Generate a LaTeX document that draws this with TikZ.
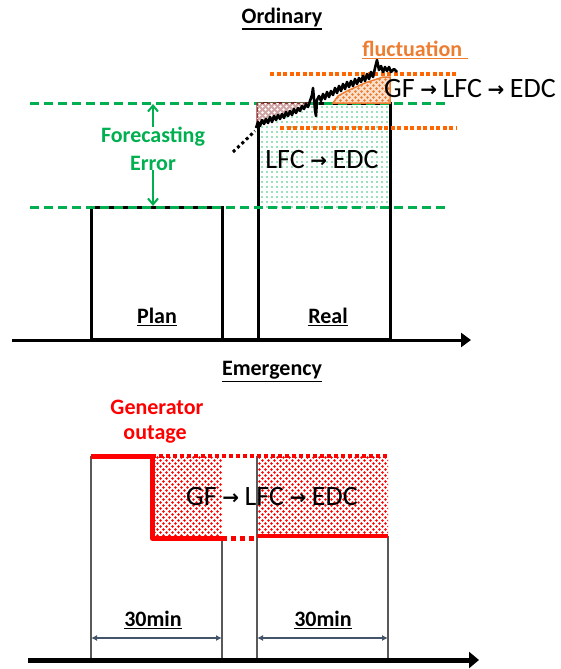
\documentclass[tikz,border=0pt]{standalone}
\usepackage{fontspec}
\setmainfont{Carlito}
\newfontfamily\symfont{DejaVu Sans}
\usetikzlibrary{arrows.meta,patterns,positioning,calc,backgrounds}
\pgfdeclarelayer{edgelayer}
\pgfdeclarelayer{nodelayer}
\pgfsetlayers{background,edgelayer,nodelayer,main}
\definecolor{fcgreen}{RGB}{0,176,80}
\definecolor{florange}{RGB}{237,125,49}
\definecolor{dotorange}{RGB}{255,102,0}
\definecolor{outred}{RGB}{255,0,0}
\definecolor{brownred}{RGB}{150,55,55}
\definecolor{slate}{RGB}{68,84,106}
\pgfdeclarepatternformonly{sparsedots}{\pgfqpoint{-1pt}{-1pt}}{\pgfqpoint{6pt}{6pt}}{\pgfqpoint{5pt}{5pt}}
	{\pgfpathcircle{\pgfqpoint{2pt}{2pt}}{0.85pt}\pgfusepath{fill}}
\pgfdeclarepatternformonly{densedots}{\pgfqpoint{-1pt}{-1pt}}{\pgfqpoint{7pt}{7pt}}{\pgfqpoint{6pt}{6pt}}
	{\pgfpathcircle{\pgfqpoint{1.5pt}{1.5pt}}{1.3pt}\pgfpathcircle{\pgfqpoint{4.5pt}{4.5pt}}{1.3pt}\pgfusepath{fill}}
\newcommand{\tarr}{\hspace{0.2em}\raisebox{1.5pt}{\symfont\bfseries\fontsize{20}{20}\selectfont →}\hspace{0.2em}}
\newcommand{\ulbox}[1]{\vtop{\hbox{#1}\kern1.2pt\hrule height 1.6pt}}
\tikzstyle{none}=[inner sep=0mm]
\tikzstyle{title}=[inner sep=0mm,font=\fontsize{22}{24}\selectfont\bfseries]
\tikzstyle{big}=[inner sep=0mm,font=\fontsize{28}{30}\selectfont]
\tikzstyle{axis}=[line width=3pt,-{Triangle[length=10pt,width=14pt]}]
\tikzstyle{box}=[line width=3pt]
\tikzstyle{level}=[fcgreen,line width=3pt,dash pattern=on 9pt off 5pt]
\tikzstyle{band}=[dotorange,line width=4pt,dash pattern=on 4pt off 2.5pt]
\tikzstyle{gap}=[-{Straight Barb[length=6pt,width=10pt]},fcgreen,line width=2pt]
\tikzstyle{span}=[{Latex[length=6pt,width=6pt]}-{Latex[length=6pt,width=6pt]},slate,line width=1.5pt]
\tikzstyle{thin}=[black!65,line width=1.2pt]
\tikzstyle{outage}=[outred,line width=5pt]

\begin{document}
\begin{tikzpicture}[x=1pt,y=-1pt]
	\useasboundingbox (0,0) rectangle (560,669);
	\begin{pgfonlayer}{nodelayer}
		% ordinary
		\node [style=title] (1) at (282, 19) {\ulbox{Ordinary}};
		\node [style=title,text=florange] (2) at (415, 50) {\ulbox{fluctuation\hspace{0.25em}}};
		\node [style=big] (3) at (470, 89) {GF\tarr LFC\tarr EDC};
		\node [style=big] (4) at (322, 160) {LFC\tarr EDC};
		\node [style=title,text=fcgreen] (5) at (153, 137) {Forecasting};
		\node [style=title,text=fcgreen] (6) at (153, 163) {Error};
		\node [style=title] (7) at (157, 317) {\ulbox{Plan}};
		\node [style=title] (8) at (328, 317) {\ulbox{Real}};
		\node [style=none] (9) at (12, 340) {};
		\node [style=none] (10) at (471, 340) {};
		\node [style=none] (11) at (153, 104) {};
		\node [style=none] (12) at (153, 206) {};
		% emergency
		\node [style=title] (13) at (272, 372) {\ulbox{Emergency}};
		\node [style=title,text=outred] (14) at (157, 407) {Generator};
		\node [style=title,text=outred] (15) at (155, 434) {outage};
		\node [style=big] (16) at (272, 497) {GF\tarr LFC\tarr EDC};
		\node [style=title] (17) at (153, 620) {\ulbox{30min}};
		\node [style=title] (18) at (323, 620) {\ulbox{30min}};
		\node [style=none] (19) at (28, 660) {};
		\node [style=none] (20) at (479, 660) {};
		\node [style=none] (21) at (91, 638) {};
		\node [style=none] (22) at (222, 638) {};
		\node [style=none] (23) at (257, 638) {};
		\node [style=none] (24) at (388, 638) {};
	\end{pgfonlayer}
	\begin{pgfonlayer}{edgelayer}
		% ordinary
		\fill[pattern=sparsedots,pattern color=fcgreen!80] (258, 103) rectangle (390, 207);
		\draw[style=box] (91, 340) -- (91, 207) -- (222, 207) -- (222, 340);
		\draw[style=box] (258, 340) -- (258, 103) -- (390, 103) -- (390, 340);
		\draw[style=axis] (9.center) to (10.center);
		\draw[line width=4pt] (91, 340) -- (390, 340);
		\draw[style=level] (30, 103) -- (446, 103);
		\draw[style=level] (30, 207) -- (446, 207);
		\draw[style=band] (270, 74) -- (456, 74);
		\draw[style=band] (280, 128) -- (456, 128);
		\draw[brownred,line width=1.5pt,fill=brownred!45,postaction={pattern=densedots,pattern color=white}]
			(257, 103) -- (257, 124) -- (265, 120) -- (274, 118) -- (283, 115) -- (292, 113)
			-- (301, 108) -- (307, 105) -- (309, 103) -- cycle;
		\draw[florange,line width=1.5pt,fill=florange!25,postaction={pattern=densedots,pattern color=florange}]
			(333, 103) -- (338, 96) -- (347, 91) -- (356, 87) -- (365, 83) -- (374, 80)
			-- (383, 77) -- (390, 77) -- (390, 103) -- cycle;
		\draw[line width=3pt,dash pattern=on 3pt off 3pt] (233, 152) -- (255, 131);
		\draw[line width=2.6pt,line join=round] plot coordinates {
			(256,128) (258,122) (260,126) (262,120) (264,124) (266,119) (268,123) (270,117)
			(272,122) (274,116) (276,120) (278,115) (280,119) (282,114) (284,118) (286,112)
			(288,116) (290,111) (292,115) (294,109) (296,113) (298,108) (300,111) (302,106)
			(304,109) (306,104) (308,107) (310,101) (312,95) (313,88) (314,99) (315,110)
			(316,116) (317,100) (319,96) (321,101) (323,94) (325,99) (327,92) (329,97)
			(331,91) (333,95) (335,88) (337,93) (339,86) (341,91) (343,84) (345,89)
			(347,82) (349,87) (351,81) (353,86) (355,79) (357,84) (359,78) (361,82)
			(363,76) (365,81) (367,74) (369,79) (371,72) (373,77) (375,68) (377,60)
			(379,70) (381,66) (383,72) (385,67) (387,71) (389,67) (391,72) (394,69) (397,72)};
		\draw[style=gap] (5.north) to (11.center);
		\draw[style=gap] (6.south) to (12.center);
		% emergency
		\fill[pattern=densedots,pattern color=outred] (152, 456) rectangle (222, 538);
		\fill[pattern=densedots,pattern color=outred] (257, 456) rectangle (388, 536);
		\draw[style=thin] (91, 456) -- (91, 660);
		\draw[style=thin] (222, 538) -- (222, 660);
		\draw[style=thin] (257, 456) -- (257, 660);
		\draw[style=thin] (388, 536) -- (388, 660);
		\draw[outred,line width=4pt,dash pattern=on 4pt off 3pt] (152, 456) -- (388, 456);
		\draw[style=outage,line join=round] (91, 456) -- (152, 456) -- (152, 538) -- (222, 538);
		\draw[style=outage,dash pattern=on 5pt off 4pt] (222, 538) -- (257, 538);
		\draw[outred,line width=4pt] (257, 536) -- (388, 536);
		\draw[style=span] (21.center) to (22.center);
		\draw[style=span] (23.center) to (24.center);
		\draw[line width=5pt,-{Triangle[length=10pt,width=16pt]}] (19.center) to (20.center);
	\end{pgfonlayer}
\end{tikzpicture}
\end{document}
